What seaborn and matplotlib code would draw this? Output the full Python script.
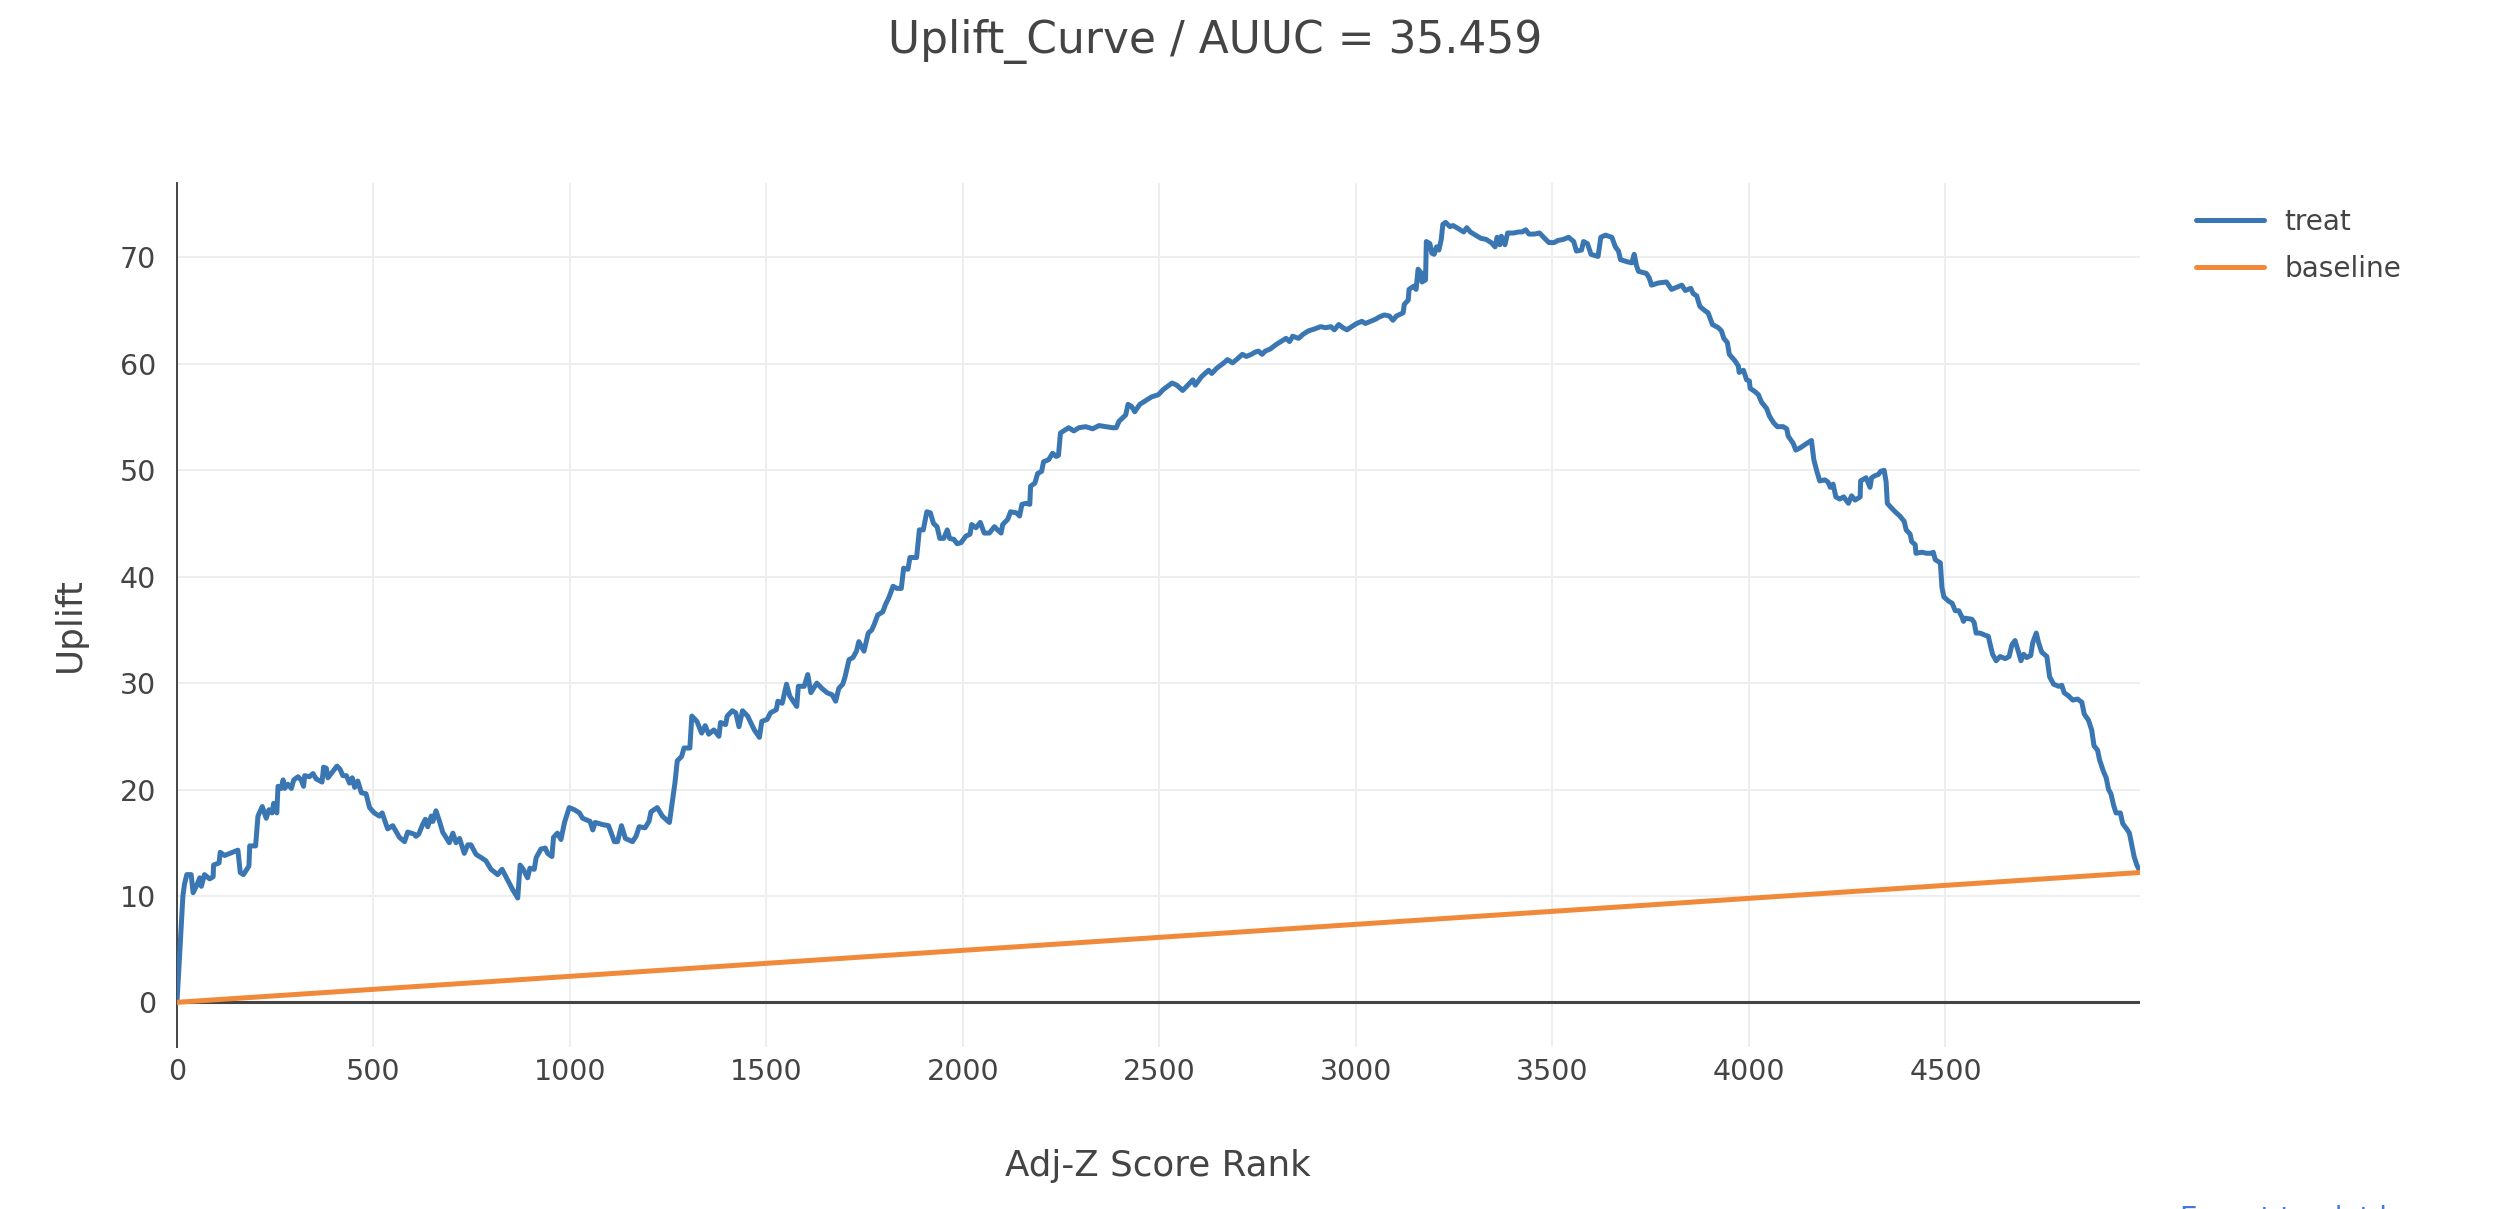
import numpy as np
import pandas as pd
import matplotlib
matplotlib.use('Agg')
import matplotlib.pyplot as plt
import seaborn as sns

# values (rank, cumulative uplift)
rank = [
    0, 15, 19, 25, 36, 41, 49, 58, 62, 70, 83, 92, 93, 107, 110, 121, 155, 161, 169, 183,
    185, 200, 206, 217, 227, 234, 242, 246, 254, 257, 265, 270, 274, 282, 291, 297, 308, 316, 322, 325,
    337, 346, 354, 369, 373, 380, 384, 407, 415, 422, 431, 439, 446, 452, 460, 469, 481, 490, 502, 515,
    522, 536, 549, 566, 579, 587, 604, 608, 615, 625, 632, 638, 647, 651, 659, 668, 676, 693, 702, 710,
    719, 731, 740, 748, 761, 774, 786, 799, 816, 827, 837, 854, 867, 873, 881, 892, 898, 909, 914, 926,
    937, 943, 954, 958, 968, 977, 986, 998, 1011, 1024, 1032, 1051, 1058, 1064, 1083, 1098, 1113, 1121, 1131, 1141,
    1159, 1168, 1176, 1191, 1201, 1206, 1222, 1235, 1253, 1267, 1273, 1284, 1290, 1305, 1310, 1323, 1335, 1344, 1353, 1366,
    1379, 1383, 1396, 1400, 1413, 1422, 1430, 1439, 1452, 1469, 1482, 1488, 1502, 1510, 1525, 1529, 1540, 1551, 1559, 1568,
    1577, 1581, 1596, 1605, 1613, 1628, 1641, 1654, 1667, 1676, 1684, 1694, 1700, 1710, 1720, 1729, 1735, 1748, 1759, 1768,
    1774, 1783, 1796, 1803, 1811, 1822, 1832, 1843, 1849, 1860, 1865, 1882, 1889, 1899, 1908, 1917, 1925, 1934, 1941, 1951,
    1960, 1966, 1977, 1985, 1995, 2007, 2018, 2022, 2033, 2044, 2054, 2067, 2080, 2088, 2097, 2101, 2114, 2121, 2136, 2144,
    2150, 2161, 2170, 2172, 2183, 2190, 2200, 2205, 2218, 2228, 2237, 2243, 2248, 2256, 2269, 2282, 2295, 2312, 2330, 2346,
    2364, 2381, 2390, 2397, 2414, 2420, 2429, 2437, 2450, 2467, 2480, 2497, 2510, 2532, 2544, 2559, 2572, 2585, 2591, 2607,
    2625, 2633, 2646, 2664, 2673, 2686, 2699, 2711, 2721, 2734, 2743, 2752, 2761, 2769, 2782, 2796, 2809, 2822, 2831, 2839,
    2854, 2866, 2879, 2896, 2910, 2923, 2936, 2945, 2956, 2967, 2977, 2989, 3002, 3015, 3024, 3037, 3050, 3059, 3072, 3085,
    3094, 3103, 3120, 3123, 3133, 3135, 3147, 3153, 3158, 3167, 3168, 3177, 3179, 3188, 3193, 3199, 3205, 3211, 3217, 3221,
    3228, 3239, 3247, 3261, 3274, 3282, 3291, 3304, 3318, 3331, 3344, 3354, 3359, 3366, 3370, 3379, 3386, 3401, 3414, 3423,
    3432, 3440, 3454, 3467, 3480, 3491, 3504, 3514, 3528, 3541, 3554, 3561, 3574, 3579, 3589, 3598, 3616, 3623, 3635, 3651,
    3660, 3668, 3673, 3690, 3702, 3708, 3714, 3719, 3739, 3746, 3752, 3769, 3790, 3803, 3816, 3829, 3838, 3852, 3858, 3867,
    3875, 3888, 3896, 3907, 3922, 3930, 3936, 3945, 3950, 3964, 3973, 3975, 3986, 3994, 4001, 4003, 4015, 4024, 4032, 4045,
    4052, 4062, 4072, 4087, 4096, 4100, 4113, 4119, 4130, 4146, 4159, 4165, 4172, 4180, 4193, 4201, 4207, 4214, 4221, 4231,
    4241, 4253, 4261, 4270, 4283, 4284, 4298, 4308, 4312, 4321, 4329, 4335, 4344, 4349, 4352, 4359, 4372, 4384, 4395, 4400,
    4410, 4414, 4423, 4425, 4440, 4452, 4463, 4469, 4474, 4487, 4491, 4496, 4508, 4517, 4525, 4534, 4542, 4546, 4550, 4567,
    4573, 4578, 4588, 4601, 4609, 4614, 4620, 4629, 4639, 4652, 4662, 4669, 4677, 4686, 4692, 4699, 4707, 4717, 4722, 4731,
    4737, 4745, 4758, 4765, 4775, 4788, 4796, 4802, 4813, 4824, 4836, 4847, 4853, 4864, 4872, 4878, 4887, 4892, 4902, 4909,
    4915, 4921, 4928, 4934, 4945, 4951, 4961, 4968, 4974, 4980, 4987, 4995,
]
treat = [
    0.0, 10.0, 11.1, 12.0, 12.0, 10.3, 10.9, 11.7, 10.9, 12.0, 11.6, 11.8, 12.9, 13.1, 14.1, 13.8, 14.3, 12.2, 12.0, 12.8,
    14.7, 14.7, 17.5, 18.4, 17.3, 18.1, 17.8, 18.7, 17.8, 20.3, 20.1, 20.9, 20.1, 20.5, 20.1, 20.9, 21.2, 20.9, 20.3, 21.3,
    21.2, 21.5, 21.0, 20.7, 22.1, 22.0, 21.1, 22.2, 21.9, 21.3, 21.3, 20.6, 21.1, 20.2, 20.8, 19.7, 19.6, 18.3, 17.8, 17.5,
    17.8, 16.3, 16.6, 15.5, 15.1, 16.0, 15.8, 15.6, 15.8, 16.7, 17.2, 16.5, 17.5, 17.0, 18.0, 17.0, 16.0, 15.0, 15.9, 15.0,
    15.4, 14.0, 14.8, 14.8, 13.9, 13.6, 13.3, 12.5, 12.0, 12.5, 11.8, 10.6, 9.8, 12.9, 12.5, 11.7, 12.6, 12.5, 13.6, 14.4,
    14.5, 14.0, 13.7, 15.5, 15.9, 15.3, 16.9, 18.3, 18.1, 17.8, 17.3, 17.0, 16.2, 16.9, 16.7, 16.6, 15.1, 15.1, 16.6, 15.4,
    15.1, 15.6, 16.5, 16.4, 17.0, 17.9, 18.3, 17.5, 16.9, 20.6, 22.7, 23.1, 23.9, 23.9, 26.9, 26.4, 25.3, 26.0, 25.2, 25.6,
    25.0, 26.3, 26.1, 26.9, 27.4, 27.2, 25.9, 27.4, 26.9, 25.6, 24.9, 26.4, 26.6, 27.2, 27.5, 28.3, 28.1, 29.9, 28.8, 28.3,
    27.8, 29.7, 29.7, 30.8, 29.1, 30.0, 29.5, 29.1, 28.9, 28.3, 29.5, 29.9, 30.6, 32.2, 32.4, 33.0, 33.9, 33.0, 34.7, 35.0,
    35.5, 36.4, 36.7, 37.4, 38.0, 39.1, 38.9, 38.9, 40.8, 40.7, 41.8, 41.8, 44.4, 44.4, 46.1, 46.0, 45.0, 44.7, 43.6, 43.6,
    44.4, 43.6, 43.5, 43.1, 43.2, 43.8, 44.0, 44.9, 44.6, 45.1, 44.1, 44.1, 44.7, 44.4, 44.1, 44.9, 45.4, 46.1, 46.0, 45.7,
    46.8, 46.9, 46.8, 48.5, 48.8, 49.7, 49.9, 50.8, 51.0, 51.6, 51.3, 51.4, 53.5, 53.7, 54.0, 53.7, 54.0, 54.1, 53.9, 54.2,
    54.1, 54.0, 54.0, 54.6, 55.2, 56.2, 56.0, 55.5, 56.2, 56.6, 56.9, 57.1, 57.6, 58.2, 58.0, 57.5, 58.0, 58.5, 58.0, 58.8,
    59.4, 59.1, 59.6, 60.1, 60.4, 60.1, 60.5, 60.9, 60.7, 60.9, 61.1, 61.2, 60.9, 61.2, 61.4, 61.8, 62.1, 62.4, 62.1, 62.6,
    62.4, 62.8, 63.1, 63.3, 63.5, 63.4, 63.5, 63.2, 63.7, 63.4, 63.2, 63.5, 63.8, 64.0, 63.8, 64.0, 64.2, 64.4, 64.6, 64.5,
    64.1, 64.5, 64.8, 65.6, 66.0, 67.0, 67.3, 67.0, 68.9, 68.5, 67.7, 67.9, 71.5, 71.3, 70.4, 70.3, 71.0, 70.7, 71.7, 73.1,
    73.3, 72.9, 73.0, 72.7, 72.4, 72.8, 72.4, 72.1, 71.8, 71.7, 71.4, 71.0, 71.9, 71.2, 72.0, 71.2, 72.3, 72.3, 72.4, 72.4,
    72.6, 72.2, 72.2, 72.3, 71.8, 71.4, 71.4, 71.6, 71.7, 71.9, 71.5, 70.6, 70.7, 71.5, 71.3, 70.3, 70.1, 71.9, 72.1, 71.9,
    71.0, 70.6, 69.8, 69.6, 69.5, 70.3, 69.2, 68.7, 68.5, 68.1, 67.4, 67.6, 67.7, 67.0, 67.2, 67.4, 66.9, 67.1, 66.6, 66.4,
    65.4, 65.0, 64.8, 63.7, 63.4, 63.1, 62.4, 62.0, 60.9, 60.3, 59.8, 59.2, 59.4, 58.5, 58.4, 57.7, 57.4, 57.1, 56.4, 55.8,
    55.1, 54.5, 54.1, 54.1, 53.9, 53.2, 52.5, 51.9, 52.1, 52.5, 52.8, 51.0, 50.0, 49.0, 49.1, 48.9, 48.4, 48.7, 47.5, 47.3,
    47.5, 46.9, 47.6, 47.2, 47.5, 49.0, 49.3, 48.4, 49.3, 49.5, 49.6, 49.9, 50.0, 48.9, 46.9, 46.6, 46.1, 45.7, 45.2, 44.4,
    44.0, 43.3, 43.0, 42.2, 42.3, 42.2, 42.2, 42.3, 41.6, 41.3, 39.0, 38.1, 37.7, 37.5, 36.8, 36.8, 36.2, 35.8, 36.1, 36.0,
    35.7, 34.7, 34.7, 34.5, 34.4, 33.6, 32.7, 32.1, 32.5, 32.3, 32.5, 33.6, 34.0, 32.9, 32.1, 32.7, 32.4, 32.6, 33.8, 34.7,
    33.8, 32.9, 32.5, 30.6, 29.9, 29.7, 29.8, 29.1, 28.8, 28.4, 28.5, 28.2, 27.1, 26.5, 25.6, 24.1, 23.7, 22.8, 21.7, 21.1,
    20.0, 19.6, 18.5, 17.8, 17.8, 16.8, 16.3, 15.9, 14.8, 13.7, 12.9, 12.3,
]
baseline_rank = [0, 4995]
baseline = [0.0, 12.2]

x_ticks = [0, 500, 1000, 1500, 2000, 2500, 3000, 3500, 4000, 4500]
y_ticks = [0, 10, 20, 30, 40, 50, 60, 70]

title = 'Uplift_Curve / AUUC = 35.459'
blue = '#3a77b2'
orange = '#f08a3a'
text_col = '#444444'

sns.set_theme(style='whitegrid', rc={
    'grid.color': '#eeeeee',
    'grid.linewidth': 1.4,
    'axes.edgecolor': text_col,
})
plt.rcParams['font.family'] = ['DejaVu Sans']

W, H = 2498, 1209
fig = plt.figure(figsize=(W / 100, H / 100), dpi=100)
ax = fig.add_axes([177 / W, 1 - 1047 / H, (2140 - 177) / W, (1047 - 183) / H])

df_treat = pd.DataFrame({'rank': rank, 'uplift': treat})
df_base = pd.DataFrame({'rank': baseline_rank, 'uplift': baseline})

ax.axhline(0, color=text_col, lw=2.2, zorder=1.5)
sns.lineplot(data=df_treat, x='rank', y='uplift', ax=ax, color=blue, lw=3.6,
             label='treat', sort=False, zorder=3)
sns.lineplot(data=df_base, x='rank', y='uplift', ax=ax, color=orange, lw=3.6,
             label='baseline', sort=False, zorder=4)

ax.set_xlim(0, 4995)
ax.set_ylim(-4.2, 77)
ax.set_xticks(x_ticks)
ax.set_yticks(y_ticks)
ax.tick_params(axis='both', length=0, labelsize=20.5, labelcolor=text_col)
ax.tick_params(axis='x', pad=8)
ax.tick_params(axis='y', pad=15)

for side in ['top', 'right', 'bottom']:
    ax.spines[side].set_visible(False)
ax.spines['left'].set_color(text_col)
ax.spines['left'].set_linewidth(1.4)

ax.set_xlabel('Adj-Z Score Rank', fontsize=25.7, color=text_col)
ax.set_ylabel('Uplift', fontsize=25.7, color=text_col)
ax.xaxis.set_label_coords((1158 - 177) / 1963, (1047 - 1166) / 864)
ax.yaxis.set_label_coords((70 - 177) / 1963, (1047 - 625) / 864)
ax.xaxis.label.set_va('center')
ax.yaxis.label.set_va('center')

leg = ax.legend(loc='upper left', bbox_to_anchor=(2185 / W, 1 - 197 / H),
                bbox_transform=fig.transFigure, frameon=False, fontsize=20.2,
                handlelength=2.4, handletextpad=0.75, labelspacing=0.68,
                borderaxespad=0)
for t in leg.get_texts():
    t.set_color(text_col)

fig.text(1215 / W, 1 - 41 / H, title, ha='center', va='center',
         fontsize=31.6, color=text_col)
# plotly's export link, cut off by the bottom edge in the reference
fig.text(2180 / W, 1 - 1205 / H, 'Export to plot.ly', ha='left', va='top',
         fontsize=20.2, color='#447adb')

fig.savefig('out.png', dpi=100)
